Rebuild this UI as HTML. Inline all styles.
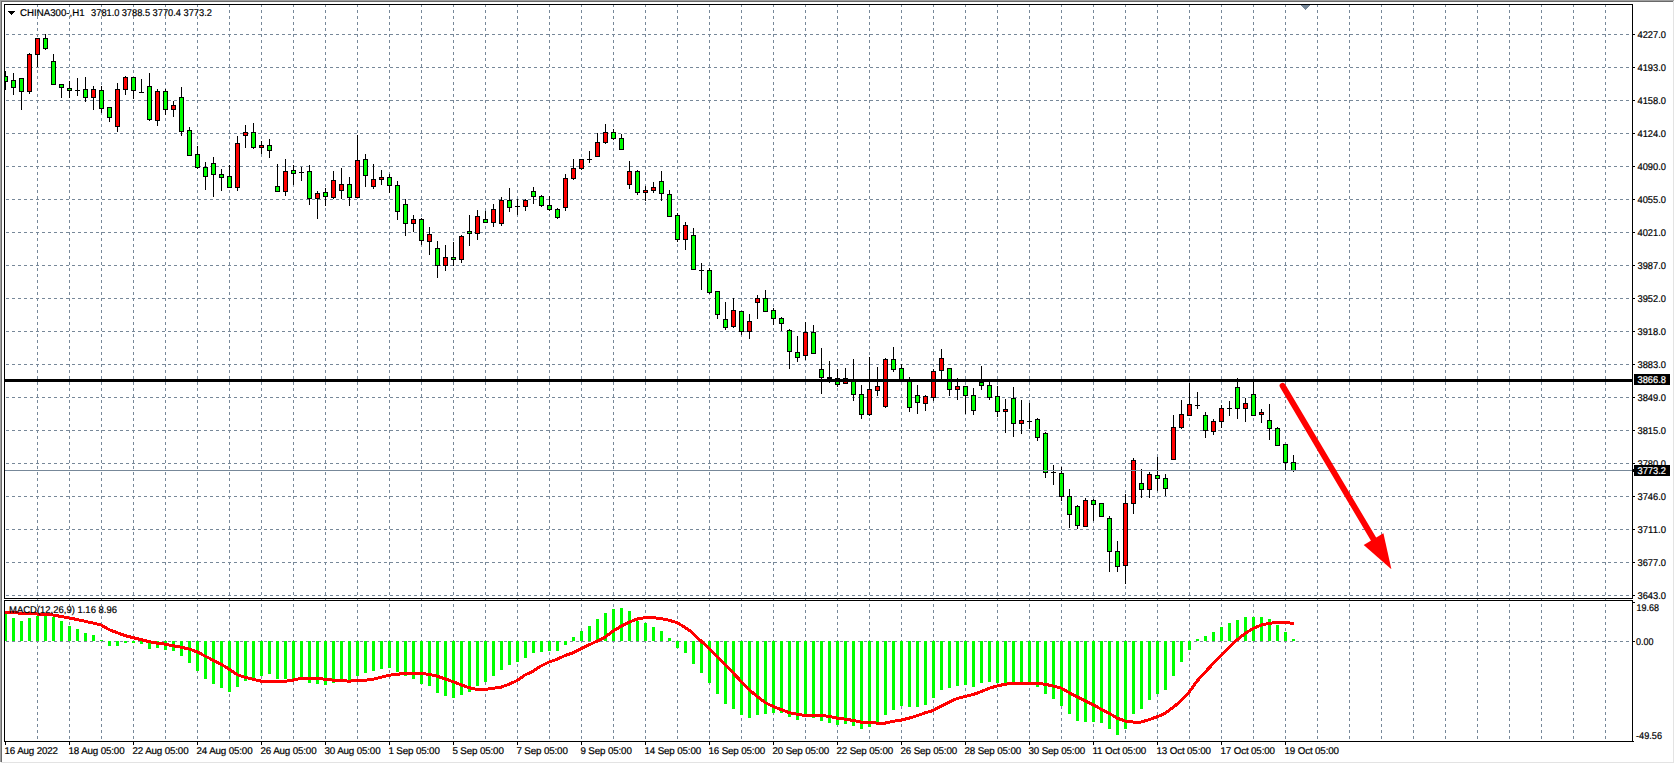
<!DOCTYPE html><html><head><meta charset="utf-8"><style>html,body{margin:0;padding:0;background:#fff;overflow:hidden}svg{display:block}text{font-family:"Liberation Sans",sans-serif;font-size:9.8px;text-rendering:geometricPrecision;stroke:#000;stroke-width:0.2px}.w{fill:#fff;stroke:#fff}</style></head><body>
<svg width="1675" height="764" viewBox="0 0 1675 764" shape-rendering="crispEdges">
<rect x="0" y="0" width="1675" height="764" fill="#fff"/>
<rect x="0" y="0" width="1674" height="1" fill="#a0a0a0"/>
<rect x="0" y="0" width="1" height="762" fill="#a0a0a0"/>
<rect x="1" y="1" width="1672" height="1" fill="#696969"/>
<rect x="1" y="1" width="1" height="761" fill="#696969"/>
<rect x="1673" y="1" width="1" height="762" fill="#e3e3e3"/>
<rect x="1" y="762" width="1673" height="1" fill="#e3e3e3"/>
<path d="M37.5 4V741 M69.5 4V741 M101.5 4V741 M133.5 4V741 M165.5 4V741 M197.5 4V741 M229.5 4V741 M261.5 4V741 M293.5 4V741 M325.5 4V741 M357.5 4V741 M389.5 4V741 M421.5 4V741 M453.5 4V741 M485.5 4V741 M517.5 4V741 M549.5 4V741 M581.5 4V741 M613.5 4V741 M645.5 4V741 M677.5 4V741 M709.5 4V741 M741.5 4V741 M773.5 4V741 M805.5 4V741 M837.5 4V741 M869.5 4V741 M901.5 4V741 M933.5 4V741 M965.5 4V741 M997.5 4V741 M1029.5 4V741 M1061.5 4V741 M1093.5 4V741 M1125.5 4V741 M1157.5 4V741 M1189.5 4V741 M1221.5 4V741 M1253.5 4V741 M1285.5 4V741 M1317.5 4V741 M1349.5 4V741 M1381.5 4V741 M1413.5 4V741 M1445.5 4V741 M1477.5 4V741 M1509.5 4V741 M1541.5 4V741 M1573.5 4V741 M1605.5 4V741 M6 34.5H1632 M6 67.5H1632 M6 100.5H1632 M6 133.5H1632 M6 166.5H1632 M6 199.5H1632 M6 232.5H1632 M6 265.5H1632 M6 298.5H1632 M6 331.5H1632 M6 364.5H1632 M6 397.5H1632 M6 430.5H1632 M6 463.5H1632 M6 496.5H1632 M6 529.5H1632 M6 562.5H1632 M6 595.5H1632 M6 641.5H1632" stroke="#778899" stroke-width="1" stroke-dasharray="3 3" fill="none"/>
<g><rect x="5" y="71" width="1" height="19" fill="#000"/><rect x="3" y="76" width="5" height="6" fill="#000"/><rect x="4" y="77" width="3" height="4" fill="#00ff00"/><rect x="13" y="73" width="1" height="22" fill="#000"/><rect x="11" y="80" width="5" height="8" fill="#000"/><rect x="12" y="81" width="3" height="6" fill="#00ff00"/><rect x="21" y="78" width="1" height="32" fill="#000"/><rect x="19" y="78" width="5" height="14" fill="#000"/><rect x="20" y="79" width="3" height="12" fill="#00ff00"/><rect x="29" y="53" width="1" height="41" fill="#000"/><rect x="27" y="54" width="5" height="38" fill="#000"/><rect x="28" y="55" width="3" height="36" fill="#ff0000"/><rect x="37" y="38" width="1" height="29" fill="#000"/><rect x="35" y="38" width="5" height="17" fill="#000"/><rect x="36" y="39" width="3" height="15" fill="#ff0000"/><rect x="45" y="34" width="1" height="16" fill="#000"/><rect x="43" y="38" width="5" height="11" fill="#000"/><rect x="44" y="39" width="3" height="9" fill="#00ff00"/><rect x="53" y="54" width="1" height="31" fill="#000"/><rect x="51" y="61" width="5" height="24" fill="#000"/><rect x="52" y="62" width="3" height="22" fill="#00ff00"/><rect x="61" y="84" width="1" height="14" fill="#000"/><rect x="59" y="84" width="5" height="4" fill="#000"/><rect x="60" y="85" width="3" height="2" fill="#00ff00"/><rect x="69" y="81" width="1" height="17" fill="#000"/><rect x="67" y="88" width="5" height="3" fill="#000"/><rect x="68" y="89" width="3" height="1" fill="#00ff00"/><rect x="77" y="78" width="1" height="18" fill="#000"/><rect x="75" y="90" width="5" height="1" fill="#000"/><rect x="85" y="77" width="1" height="25" fill="#000"/><rect x="83" y="89" width="5" height="9" fill="#000"/><rect x="84" y="90" width="3" height="7" fill="#00ff00"/><rect x="93" y="86" width="1" height="24" fill="#000"/><rect x="91" y="89" width="5" height="9" fill="#000"/><rect x="92" y="90" width="3" height="7" fill="#ff0000"/><rect x="101" y="86" width="1" height="27" fill="#000"/><rect x="99" y="90" width="5" height="19" fill="#000"/><rect x="100" y="91" width="3" height="17" fill="#00ff00"/><rect x="109" y="107" width="1" height="15" fill="#000"/><rect x="107" y="107" width="5" height="11" fill="#000"/><rect x="108" y="108" width="3" height="9" fill="#00ff00"/><rect x="117" y="83" width="1" height="49" fill="#000"/><rect x="115" y="89" width="5" height="38" fill="#000"/><rect x="116" y="90" width="3" height="36" fill="#ff0000"/><rect x="125" y="76" width="1" height="19" fill="#000"/><rect x="123" y="77" width="5" height="13" fill="#000"/><rect x="124" y="78" width="3" height="11" fill="#ff0000"/><rect x="133" y="77" width="1" height="22" fill="#000"/><rect x="131" y="77" width="5" height="14" fill="#000"/><rect x="132" y="78" width="3" height="12" fill="#00ff00"/><rect x="141" y="79" width="1" height="14" fill="#000"/><rect x="139" y="92" width="5" height="1" fill="#000"/><rect x="149" y="73" width="1" height="48" fill="#000"/><rect x="147" y="86" width="5" height="34" fill="#000"/><rect x="148" y="87" width="3" height="32" fill="#00ff00"/><rect x="157" y="89" width="1" height="37" fill="#000"/><rect x="155" y="91" width="5" height="30" fill="#000"/><rect x="156" y="92" width="3" height="28" fill="#ff0000"/><rect x="165" y="89" width="1" height="26" fill="#000"/><rect x="163" y="91" width="5" height="19" fill="#000"/><rect x="164" y="92" width="3" height="17" fill="#00ff00"/><rect x="173" y="101" width="1" height="16" fill="#000"/><rect x="171" y="105" width="5" height="5" fill="#000"/><rect x="172" y="106" width="3" height="3" fill="#ff0000"/><rect x="181" y="87" width="1" height="49" fill="#000"/><rect x="179" y="97" width="5" height="35" fill="#000"/><rect x="180" y="98" width="3" height="33" fill="#00ff00"/><rect x="189" y="127" width="1" height="29" fill="#000"/><rect x="187" y="130" width="5" height="26" fill="#000"/><rect x="188" y="131" width="3" height="24" fill="#00ff00"/><rect x="197" y="146" width="1" height="23" fill="#000"/><rect x="195" y="154" width="5" height="14" fill="#000"/><rect x="196" y="155" width="3" height="12" fill="#00ff00"/><rect x="205" y="162" width="1" height="28" fill="#000"/><rect x="203" y="167" width="5" height="10" fill="#000"/><rect x="204" y="168" width="3" height="8" fill="#00ff00"/><rect x="213" y="157" width="1" height="40" fill="#000"/><rect x="211" y="163" width="5" height="12" fill="#000"/><rect x="212" y="164" width="3" height="10" fill="#00ff00"/><rect x="221" y="169" width="1" height="22" fill="#000"/><rect x="219" y="174" width="5" height="4" fill="#000"/><rect x="220" y="175" width="3" height="2" fill="#00ff00"/><rect x="229" y="165" width="1" height="23" fill="#000"/><rect x="227" y="176" width="5" height="12" fill="#000"/><rect x="228" y="177" width="3" height="10" fill="#00ff00"/><rect x="237" y="136" width="1" height="55" fill="#000"/><rect x="235" y="143" width="5" height="45" fill="#000"/><rect x="236" y="144" width="3" height="43" fill="#ff0000"/><rect x="245" y="125" width="1" height="23" fill="#000"/><rect x="243" y="132" width="5" height="4" fill="#000"/><rect x="244" y="133" width="3" height="2" fill="#ff0000"/><rect x="253" y="123" width="1" height="26" fill="#000"/><rect x="251" y="132" width="5" height="16" fill="#000"/><rect x="252" y="133" width="3" height="14" fill="#00ff00"/><rect x="261" y="141" width="1" height="13" fill="#000"/><rect x="259" y="145" width="5" height="3" fill="#000"/><rect x="260" y="146" width="3" height="1" fill="#ff0000"/><rect x="269" y="139" width="1" height="19" fill="#000"/><rect x="267" y="145" width="5" height="6" fill="#000"/><rect x="268" y="146" width="3" height="4" fill="#00ff00"/><rect x="277" y="164" width="1" height="28" fill="#000"/><rect x="275" y="186" width="5" height="6" fill="#000"/><rect x="276" y="187" width="3" height="4" fill="#00ff00"/><rect x="285" y="159" width="1" height="37" fill="#000"/><rect x="283" y="171" width="5" height="21" fill="#000"/><rect x="284" y="172" width="3" height="19" fill="#ff0000"/><rect x="293" y="165" width="1" height="20" fill="#000"/><rect x="291" y="170" width="5" height="4" fill="#000"/><rect x="292" y="171" width="3" height="2" fill="#00ff00"/><rect x="301" y="167" width="1" height="14" fill="#000"/><rect x="299" y="172" width="5" height="1" fill="#000"/><rect x="309" y="165" width="1" height="40" fill="#000"/><rect x="307" y="171" width="5" height="28" fill="#000"/><rect x="308" y="172" width="3" height="26" fill="#00ff00"/><rect x="317" y="191" width="1" height="28" fill="#000"/><rect x="315" y="193" width="5" height="6" fill="#000"/><rect x="316" y="194" width="3" height="4" fill="#ff0000"/><rect x="325" y="188" width="1" height="18" fill="#000"/><rect x="323" y="192" width="5" height="5" fill="#000"/><rect x="324" y="193" width="3" height="3" fill="#00ff00"/><rect x="333" y="171" width="1" height="28" fill="#000"/><rect x="331" y="180" width="5" height="18" fill="#000"/><rect x="332" y="181" width="3" height="16" fill="#ff0000"/><rect x="341" y="168" width="1" height="31" fill="#000"/><rect x="339" y="184" width="5" height="7" fill="#000"/><rect x="340" y="185" width="3" height="5" fill="#ff0000"/><rect x="349" y="177" width="1" height="29" fill="#000"/><rect x="347" y="184" width="5" height="14" fill="#000"/><rect x="348" y="185" width="3" height="12" fill="#00ff00"/><rect x="357" y="135" width="1" height="63" fill="#000"/><rect x="355" y="160" width="5" height="38" fill="#000"/><rect x="356" y="161" width="3" height="36" fill="#ff0000"/><rect x="365" y="154" width="1" height="33" fill="#000"/><rect x="363" y="159" width="5" height="17" fill="#000"/><rect x="364" y="160" width="3" height="15" fill="#00ff00"/><rect x="373" y="164" width="1" height="25" fill="#000"/><rect x="371" y="179" width="5" height="8" fill="#000"/><rect x="372" y="180" width="3" height="6" fill="#ff0000"/><rect x="381" y="170" width="1" height="15" fill="#000"/><rect x="379" y="177" width="5" height="3" fill="#000"/><rect x="380" y="178" width="3" height="1" fill="#ff0000"/><rect x="389" y="174" width="1" height="19" fill="#000"/><rect x="387" y="177" width="5" height="9" fill="#000"/><rect x="388" y="178" width="3" height="7" fill="#00ff00"/><rect x="397" y="181" width="1" height="39" fill="#000"/><rect x="395" y="185" width="5" height="27" fill="#000"/><rect x="396" y="186" width="3" height="25" fill="#00ff00"/><rect x="405" y="199" width="1" height="37" fill="#000"/><rect x="403" y="204" width="5" height="20" fill="#000"/><rect x="404" y="205" width="3" height="18" fill="#00ff00"/><rect x="413" y="215" width="1" height="17" fill="#000"/><rect x="411" y="219" width="5" height="5" fill="#000"/><rect x="412" y="220" width="3" height="3" fill="#ff0000"/><rect x="421" y="218" width="1" height="27" fill="#000"/><rect x="419" y="219" width="5" height="22" fill="#000"/><rect x="420" y="220" width="3" height="20" fill="#00ff00"/><rect x="429" y="227" width="1" height="28" fill="#000"/><rect x="427" y="234" width="5" height="8" fill="#000"/><rect x="428" y="235" width="3" height="6" fill="#ff0000"/><rect x="437" y="241" width="1" height="37" fill="#000"/><rect x="435" y="248" width="5" height="18" fill="#000"/><rect x="436" y="249" width="3" height="16" fill="#00ff00"/><rect x="445" y="245" width="1" height="26" fill="#000"/><rect x="443" y="257" width="5" height="9" fill="#000"/><rect x="444" y="258" width="3" height="7" fill="#ff0000"/><rect x="453" y="242" width="1" height="24" fill="#000"/><rect x="451" y="257" width="5" height="3" fill="#000"/><rect x="452" y="258" width="3" height="1" fill="#00ff00"/><rect x="461" y="235" width="1" height="28" fill="#000"/><rect x="459" y="236" width="5" height="24" fill="#000"/><rect x="460" y="237" width="3" height="22" fill="#ff0000"/><rect x="469" y="215" width="1" height="31" fill="#000"/><rect x="467" y="231" width="5" height="3" fill="#000"/><rect x="468" y="232" width="3" height="1" fill="#00ff00"/><rect x="477" y="210" width="1" height="30" fill="#000"/><rect x="475" y="216" width="5" height="18" fill="#000"/><rect x="476" y="217" width="3" height="16" fill="#ff0000"/><rect x="485" y="211" width="1" height="12" fill="#000"/><rect x="483" y="219" width="5" height="4" fill="#000"/><rect x="484" y="220" width="3" height="2" fill="#00ff00"/><rect x="493" y="204" width="1" height="23" fill="#000"/><rect x="491" y="209" width="5" height="14" fill="#000"/><rect x="492" y="210" width="3" height="12" fill="#ff0000"/><rect x="501" y="197" width="1" height="29" fill="#000"/><rect x="499" y="200" width="5" height="24" fill="#000"/><rect x="500" y="201" width="3" height="22" fill="#ff0000"/><rect x="509" y="188" width="1" height="24" fill="#000"/><rect x="507" y="200" width="5" height="8" fill="#000"/><rect x="508" y="201" width="3" height="6" fill="#00ff00"/><rect x="517" y="199" width="1" height="16" fill="#000"/><rect x="515" y="206" width="5" height="1" fill="#000"/><rect x="525" y="199" width="1" height="12" fill="#000"/><rect x="523" y="200" width="5" height="7" fill="#000"/><rect x="524" y="201" width="3" height="5" fill="#ff0000"/><rect x="533" y="187" width="1" height="17" fill="#000"/><rect x="531" y="191" width="5" height="6" fill="#000"/><rect x="532" y="192" width="3" height="4" fill="#00ff00"/><rect x="541" y="195" width="1" height="12" fill="#000"/><rect x="539" y="196" width="5" height="10" fill="#000"/><rect x="540" y="197" width="3" height="8" fill="#00ff00"/><rect x="549" y="196" width="1" height="15" fill="#000"/><rect x="547" y="205" width="5" height="5" fill="#000"/><rect x="548" y="206" width="3" height="3" fill="#00ff00"/><rect x="557" y="208" width="1" height="11" fill="#000"/><rect x="555" y="209" width="5" height="9" fill="#000"/><rect x="556" y="210" width="3" height="7" fill="#00ff00"/><rect x="565" y="174" width="1" height="37" fill="#000"/><rect x="563" y="178" width="5" height="30" fill="#000"/><rect x="564" y="179" width="3" height="28" fill="#ff0000"/><rect x="573" y="159" width="1" height="21" fill="#000"/><rect x="571" y="168" width="5" height="11" fill="#000"/><rect x="572" y="169" width="3" height="9" fill="#ff0000"/><rect x="581" y="159" width="1" height="11" fill="#000"/><rect x="579" y="159" width="5" height="10" fill="#000"/><rect x="580" y="160" width="3" height="8" fill="#ff0000"/><rect x="589" y="151" width="1" height="12" fill="#000"/><rect x="587" y="159" width="5" height="1" fill="#000"/><rect x="597" y="133" width="1" height="24" fill="#000"/><rect x="595" y="142" width="5" height="15" fill="#000"/><rect x="596" y="143" width="3" height="13" fill="#ff0000"/><rect x="605" y="124" width="1" height="20" fill="#000"/><rect x="603" y="132" width="5" height="11" fill="#000"/><rect x="604" y="133" width="3" height="9" fill="#ff0000"/><rect x="613" y="129" width="1" height="11" fill="#000"/><rect x="611" y="132" width="5" height="7" fill="#000"/><rect x="612" y="133" width="3" height="5" fill="#00ff00"/><rect x="621" y="134" width="1" height="16" fill="#000"/><rect x="619" y="138" width="5" height="12" fill="#000"/><rect x="620" y="139" width="3" height="10" fill="#00ff00"/><rect x="629" y="161" width="1" height="28" fill="#000"/><rect x="627" y="171" width="5" height="14" fill="#000"/><rect x="628" y="172" width="3" height="12" fill="#ff0000"/><rect x="637" y="170" width="1" height="25" fill="#000"/><rect x="635" y="171" width="5" height="22" fill="#000"/><rect x="636" y="172" width="3" height="20" fill="#00ff00"/><rect x="645" y="186" width="1" height="15" fill="#000"/><rect x="643" y="190" width="5" height="3" fill="#000"/><rect x="644" y="191" width="3" height="1" fill="#ff0000"/><rect x="653" y="182" width="1" height="11" fill="#000"/><rect x="651" y="187" width="5" height="4" fill="#000"/><rect x="652" y="188" width="3" height="2" fill="#ff0000"/><rect x="661" y="171" width="1" height="30" fill="#000"/><rect x="659" y="181" width="5" height="13" fill="#000"/><rect x="660" y="182" width="3" height="11" fill="#00ff00"/><rect x="669" y="190" width="1" height="27" fill="#000"/><rect x="667" y="194" width="5" height="23" fill="#000"/><rect x="668" y="195" width="3" height="21" fill="#00ff00"/><rect x="677" y="213" width="1" height="29" fill="#000"/><rect x="675" y="215" width="5" height="25" fill="#000"/><rect x="676" y="216" width="3" height="23" fill="#00ff00"/><rect x="685" y="222" width="1" height="28" fill="#000"/><rect x="683" y="225" width="5" height="15" fill="#000"/><rect x="684" y="226" width="3" height="13" fill="#ff0000"/><rect x="693" y="228" width="1" height="42" fill="#000"/><rect x="691" y="235" width="5" height="35" fill="#000"/><rect x="692" y="236" width="3" height="33" fill="#00ff00"/><rect x="701" y="263" width="1" height="27" fill="#000"/><rect x="699" y="270" width="5" height="1" fill="#000"/><rect x="709" y="268" width="1" height="26" fill="#000"/><rect x="707" y="270" width="5" height="23" fill="#000"/><rect x="708" y="271" width="3" height="21" fill="#00ff00"/><rect x="717" y="291" width="1" height="28" fill="#000"/><rect x="715" y="291" width="5" height="24" fill="#000"/><rect x="716" y="292" width="3" height="22" fill="#00ff00"/><rect x="725" y="302" width="1" height="28" fill="#000"/><rect x="723" y="319" width="5" height="9" fill="#000"/><rect x="724" y="320" width="3" height="7" fill="#00ff00"/><rect x="733" y="298" width="1" height="30" fill="#000"/><rect x="731" y="310" width="5" height="17" fill="#000"/><rect x="732" y="311" width="3" height="15" fill="#ff0000"/><rect x="741" y="311" width="1" height="24" fill="#000"/><rect x="739" y="311" width="5" height="21" fill="#000"/><rect x="740" y="312" width="3" height="19" fill="#00ff00"/><rect x="749" y="314" width="1" height="25" fill="#000"/><rect x="747" y="321" width="5" height="11" fill="#000"/><rect x="748" y="322" width="3" height="9" fill="#ff0000"/><rect x="757" y="295" width="1" height="24" fill="#000"/><rect x="755" y="298" width="5" height="5" fill="#000"/><rect x="756" y="299" width="3" height="3" fill="#ff0000"/><rect x="765" y="290" width="1" height="22" fill="#000"/><rect x="763" y="298" width="5" height="14" fill="#000"/><rect x="764" y="299" width="3" height="12" fill="#00ff00"/><rect x="773" y="308" width="1" height="17" fill="#000"/><rect x="771" y="310" width="5" height="9" fill="#000"/><rect x="772" y="311" width="3" height="7" fill="#00ff00"/><rect x="781" y="317" width="1" height="14" fill="#000"/><rect x="779" y="318" width="5" height="6" fill="#000"/><rect x="780" y="319" width="3" height="4" fill="#00ff00"/><rect x="789" y="329" width="1" height="40" fill="#000"/><rect x="787" y="330" width="5" height="22" fill="#000"/><rect x="788" y="331" width="3" height="20" fill="#00ff00"/><rect x="797" y="336" width="1" height="26" fill="#000"/><rect x="795" y="352" width="5" height="6" fill="#000"/><rect x="796" y="353" width="3" height="4" fill="#00ff00"/><rect x="805" y="322" width="1" height="38" fill="#000"/><rect x="803" y="332" width="5" height="24" fill="#000"/><rect x="804" y="333" width="3" height="22" fill="#ff0000"/><rect x="813" y="325" width="1" height="29" fill="#000"/><rect x="811" y="332" width="5" height="22" fill="#000"/><rect x="812" y="333" width="3" height="20" fill="#00ff00"/><rect x="821" y="348" width="1" height="46" fill="#000"/><rect x="819" y="369" width="5" height="9" fill="#000"/><rect x="820" y="370" width="3" height="7" fill="#00ff00"/><rect x="829" y="361" width="1" height="22" fill="#000"/><rect x="827" y="377" width="5" height="2" fill="#000"/><rect x="837" y="369" width="1" height="18" fill="#000"/><rect x="835" y="378" width="5" height="7" fill="#000"/><rect x="836" y="379" width="3" height="5" fill="#00ff00"/><rect x="845" y="368" width="1" height="16" fill="#000"/><rect x="843" y="378" width="5" height="6" fill="#000"/><rect x="844" y="379" width="3" height="4" fill="#ff0000"/><rect x="853" y="359" width="1" height="42" fill="#000"/><rect x="851" y="381" width="5" height="14" fill="#000"/><rect x="852" y="382" width="3" height="12" fill="#00ff00"/><rect x="861" y="385" width="1" height="34" fill="#000"/><rect x="859" y="394" width="5" height="21" fill="#000"/><rect x="860" y="395" width="3" height="19" fill="#00ff00"/><rect x="869" y="357" width="1" height="59" fill="#000"/><rect x="867" y="389" width="5" height="26" fill="#000"/><rect x="868" y="390" width="3" height="24" fill="#ff0000"/><rect x="877" y="367" width="1" height="29" fill="#000"/><rect x="875" y="386" width="5" height="5" fill="#000"/><rect x="876" y="387" width="3" height="3" fill="#ff0000"/><rect x="885" y="358" width="1" height="50" fill="#000"/><rect x="883" y="359" width="5" height="48" fill="#000"/><rect x="884" y="360" width="3" height="46" fill="#ff0000"/><rect x="893" y="347" width="1" height="25" fill="#000"/><rect x="891" y="359" width="5" height="11" fill="#000"/><rect x="892" y="360" width="3" height="9" fill="#00ff00"/><rect x="901" y="364" width="1" height="17" fill="#000"/><rect x="899" y="368" width="5" height="13" fill="#000"/><rect x="900" y="369" width="3" height="11" fill="#00ff00"/><rect x="909" y="377" width="1" height="35" fill="#000"/><rect x="907" y="380" width="5" height="28" fill="#000"/><rect x="908" y="381" width="3" height="26" fill="#00ff00"/><rect x="917" y="385" width="1" height="29" fill="#000"/><rect x="915" y="395" width="5" height="8" fill="#000"/><rect x="916" y="396" width="3" height="6" fill="#00ff00"/><rect x="925" y="395" width="1" height="16" fill="#000"/><rect x="923" y="396" width="5" height="8" fill="#000"/><rect x="924" y="397" width="3" height="6" fill="#ff0000"/><rect x="933" y="369" width="1" height="32" fill="#000"/><rect x="931" y="371" width="5" height="27" fill="#000"/><rect x="932" y="372" width="3" height="25" fill="#ff0000"/><rect x="941" y="349" width="1" height="31" fill="#000"/><rect x="939" y="358" width="5" height="13" fill="#000"/><rect x="940" y="359" width="3" height="11" fill="#ff0000"/><rect x="949" y="368" width="1" height="28" fill="#000"/><rect x="947" y="368" width="5" height="22" fill="#000"/><rect x="948" y="369" width="3" height="20" fill="#00ff00"/><rect x="957" y="378" width="1" height="22" fill="#000"/><rect x="955" y="386" width="5" height="4" fill="#000"/><rect x="956" y="387" width="3" height="2" fill="#ff0000"/><rect x="965" y="386" width="1" height="28" fill="#000"/><rect x="963" y="386" width="5" height="10" fill="#000"/><rect x="964" y="387" width="3" height="8" fill="#00ff00"/><rect x="973" y="388" width="1" height="27" fill="#000"/><rect x="971" y="395" width="5" height="16" fill="#000"/><rect x="972" y="396" width="3" height="14" fill="#00ff00"/><rect x="981" y="366" width="1" height="24" fill="#000"/><rect x="979" y="382" width="5" height="4" fill="#000"/><rect x="980" y="383" width="3" height="2" fill="#00ff00"/><rect x="989" y="382" width="1" height="18" fill="#000"/><rect x="987" y="385" width="5" height="13" fill="#000"/><rect x="988" y="386" width="3" height="11" fill="#00ff00"/><rect x="997" y="386" width="1" height="31" fill="#000"/><rect x="995" y="396" width="5" height="16" fill="#000"/><rect x="996" y="397" width="3" height="14" fill="#00ff00"/><rect x="1005" y="399" width="1" height="34" fill="#000"/><rect x="1003" y="409" width="5" height="3" fill="#000"/><rect x="1004" y="410" width="3" height="1" fill="#ff0000"/><rect x="1013" y="387" width="1" height="50" fill="#000"/><rect x="1011" y="398" width="5" height="26" fill="#000"/><rect x="1012" y="399" width="3" height="24" fill="#00ff00"/><rect x="1021" y="400" width="1" height="34" fill="#000"/><rect x="1019" y="420" width="5" height="4" fill="#000"/><rect x="1020" y="421" width="3" height="2" fill="#ff0000"/><rect x="1029" y="403" width="1" height="26" fill="#000"/><rect x="1027" y="421" width="5" height="1" fill="#000"/><rect x="1037" y="418" width="1" height="23" fill="#000"/><rect x="1035" y="419" width="5" height="19" fill="#000"/><rect x="1036" y="420" width="3" height="17" fill="#00ff00"/><rect x="1045" y="432" width="1" height="46" fill="#000"/><rect x="1043" y="433" width="5" height="40" fill="#000"/><rect x="1044" y="434" width="3" height="38" fill="#00ff00"/><rect x="1053" y="465" width="1" height="20" fill="#000"/><rect x="1051" y="472" width="5" height="1" fill="#000"/><rect x="1061" y="467" width="1" height="34" fill="#000"/><rect x="1059" y="473" width="5" height="24" fill="#000"/><rect x="1060" y="474" width="3" height="22" fill="#00ff00"/><rect x="1069" y="489" width="1" height="39" fill="#000"/><rect x="1067" y="496" width="5" height="19" fill="#000"/><rect x="1068" y="497" width="3" height="17" fill="#00ff00"/><rect x="1077" y="505" width="1" height="24" fill="#000"/><rect x="1075" y="506" width="5" height="20" fill="#000"/><rect x="1076" y="507" width="3" height="18" fill="#00ff00"/><rect x="1085" y="498" width="1" height="29" fill="#000"/><rect x="1083" y="500" width="5" height="27" fill="#000"/><rect x="1084" y="501" width="3" height="25" fill="#ff0000"/><rect x="1093" y="499" width="1" height="22" fill="#000"/><rect x="1091" y="500" width="5" height="5" fill="#000"/><rect x="1092" y="501" width="3" height="3" fill="#00ff00"/><rect x="1101" y="503" width="1" height="14" fill="#000"/><rect x="1099" y="503" width="5" height="14" fill="#000"/><rect x="1100" y="504" width="3" height="12" fill="#00ff00"/><rect x="1109" y="516" width="1" height="56" fill="#000"/><rect x="1107" y="518" width="5" height="34" fill="#000"/><rect x="1108" y="519" width="3" height="32" fill="#00ff00"/><rect x="1117" y="541" width="1" height="31" fill="#000"/><rect x="1115" y="551" width="5" height="16" fill="#000"/><rect x="1116" y="552" width="3" height="14" fill="#00ff00"/><rect x="1125" y="494" width="1" height="90" fill="#000"/><rect x="1123" y="503" width="5" height="63" fill="#000"/><rect x="1124" y="504" width="3" height="61" fill="#ff0000"/><rect x="1133" y="458" width="1" height="56" fill="#000"/><rect x="1131" y="460" width="5" height="44" fill="#000"/><rect x="1132" y="461" width="3" height="42" fill="#ff0000"/><rect x="1141" y="469" width="1" height="29" fill="#000"/><rect x="1139" y="483" width="5" height="7" fill="#000"/><rect x="1140" y="484" width="3" height="5" fill="#00ff00"/><rect x="1149" y="472" width="1" height="26" fill="#000"/><rect x="1147" y="474" width="5" height="16" fill="#000"/><rect x="1148" y="475" width="3" height="14" fill="#ff0000"/><rect x="1157" y="457" width="1" height="34" fill="#000"/><rect x="1155" y="475" width="5" height="4" fill="#000"/><rect x="1156" y="476" width="3" height="2" fill="#00ff00"/><rect x="1165" y="474" width="1" height="22" fill="#000"/><rect x="1163" y="478" width="5" height="11" fill="#000"/><rect x="1164" y="479" width="3" height="9" fill="#00ff00"/><rect x="1173" y="415" width="1" height="45" fill="#000"/><rect x="1171" y="427" width="5" height="33" fill="#000"/><rect x="1172" y="428" width="3" height="31" fill="#ff0000"/><rect x="1181" y="400" width="1" height="29" fill="#000"/><rect x="1179" y="414" width="5" height="14" fill="#000"/><rect x="1180" y="415" width="3" height="12" fill="#ff0000"/><rect x="1189" y="383" width="1" height="33" fill="#000"/><rect x="1187" y="404" width="5" height="12" fill="#000"/><rect x="1188" y="405" width="3" height="10" fill="#ff0000"/><rect x="1197" y="392" width="1" height="17" fill="#000"/><rect x="1195" y="405" width="5" height="1" fill="#000"/><rect x="1205" y="412" width="1" height="26" fill="#000"/><rect x="1203" y="415" width="5" height="16" fill="#000"/><rect x="1204" y="416" width="3" height="14" fill="#00ff00"/><rect x="1213" y="419" width="1" height="16" fill="#000"/><rect x="1211" y="421" width="5" height="11" fill="#000"/><rect x="1212" y="422" width="3" height="9" fill="#ff0000"/><rect x="1221" y="405" width="1" height="23" fill="#000"/><rect x="1219" y="408" width="5" height="14" fill="#000"/><rect x="1220" y="409" width="3" height="12" fill="#ff0000"/><rect x="1229" y="401" width="1" height="15" fill="#000"/><rect x="1227" y="408" width="5" height="1" fill="#000"/><rect x="1237" y="378" width="1" height="41" fill="#000"/><rect x="1235" y="387" width="5" height="22" fill="#000"/><rect x="1236" y="388" width="3" height="20" fill="#00ff00"/><rect x="1245" y="398" width="1" height="24" fill="#000"/><rect x="1243" y="403" width="5" height="6" fill="#000"/><rect x="1244" y="404" width="3" height="4" fill="#ff0000"/><rect x="1253" y="382" width="1" height="34" fill="#000"/><rect x="1251" y="394" width="5" height="22" fill="#000"/><rect x="1252" y="395" width="3" height="20" fill="#00ff00"/><rect x="1261" y="409" width="1" height="14" fill="#000"/><rect x="1259" y="412" width="5" height="3" fill="#000"/><rect x="1260" y="413" width="3" height="1" fill="#ff0000"/><rect x="1269" y="404" width="1" height="36" fill="#000"/><rect x="1267" y="420" width="5" height="9" fill="#000"/><rect x="1268" y="421" width="3" height="7" fill="#00ff00"/><rect x="1277" y="427" width="1" height="19" fill="#000"/><rect x="1275" y="428" width="5" height="18" fill="#000"/><rect x="1276" y="429" width="3" height="16" fill="#00ff00"/><rect x="1285" y="444" width="1" height="26" fill="#000"/><rect x="1283" y="444" width="5" height="19" fill="#000"/><rect x="1284" y="445" width="3" height="17" fill="#00ff00"/><rect x="1293" y="455" width="1" height="17" fill="#000"/><rect x="1291" y="462" width="5" height="9" fill="#000"/><rect x="1292" y="463" width="3" height="7" fill="#00ff00"/></g>
<rect x="5" y="379" width="1627" height="3" fill="#000"/>
<rect x="5" y="470" width="1627" height="1" fill="#778899"/>
<g shape-rendering="geometricPrecision"><line x1="1282.6" y1="385.8" x2="1374.6" y2="540.9" stroke="#ff0000" stroke-width="6" stroke-linecap="round"/><polygon points="1391.4,569.3 1363.7,545.1 1383.4,533.3" fill="#ff0000"/></g>
<g><rect x="5" y="614" width="2" height="27" fill="#00ff00"/><rect x="12" y="618" width="3" height="23" fill="#00ff00"/><rect x="20" y="621" width="3" height="20" fill="#00ff00"/><rect x="28" y="618" width="3" height="23" fill="#00ff00"/><rect x="36" y="616" width="3" height="25" fill="#00ff00"/><rect x="44" y="616" width="3" height="25" fill="#00ff00"/><rect x="52" y="617" width="3" height="24" fill="#00ff00"/><rect x="60" y="621" width="3" height="20" fill="#00ff00"/><rect x="68" y="626" width="3" height="15" fill="#00ff00"/><rect x="76" y="629" width="3" height="12" fill="#00ff00"/><rect x="84" y="633" width="3" height="8" fill="#00ff00"/><rect x="92" y="635" width="3" height="6" fill="#00ff00"/><rect x="100" y="640" width="3" height="1" fill="#00ff00"/><rect x="108" y="641" width="3" height="5" fill="#00ff00"/><rect x="116" y="641" width="3" height="5" fill="#00ff00"/><rect x="124" y="641" width="3" height="2" fill="#00ff00"/><rect x="132" y="641" width="3" height="2" fill="#00ff00"/><rect x="140" y="641" width="3" height="3" fill="#00ff00"/><rect x="148" y="641" width="3" height="8" fill="#00ff00"/><rect x="156" y="641" width="3" height="7" fill="#00ff00"/><rect x="164" y="641" width="3" height="9" fill="#00ff00"/><rect x="172" y="641" width="3" height="10" fill="#00ff00"/><rect x="180" y="641" width="3" height="15" fill="#00ff00"/><rect x="188" y="641" width="3" height="22" fill="#00ff00"/><rect x="196" y="641" width="3" height="30" fill="#00ff00"/><rect x="204" y="641" width="3" height="38" fill="#00ff00"/><rect x="212" y="641" width="3" height="43" fill="#00ff00"/><rect x="220" y="641" width="3" height="47" fill="#00ff00"/><rect x="228" y="641" width="3" height="51" fill="#00ff00"/><rect x="236" y="641" width="3" height="46" fill="#00ff00"/><rect x="244" y="641" width="3" height="40" fill="#00ff00"/><rect x="252" y="641" width="3" height="37" fill="#00ff00"/><rect x="260" y="641" width="3" height="35" fill="#00ff00"/><rect x="268" y="641" width="3" height="33" fill="#00ff00"/><rect x="276" y="641" width="3" height="38" fill="#00ff00"/><rect x="284" y="641" width="3" height="38" fill="#00ff00"/><rect x="292" y="641" width="3" height="39" fill="#00ff00"/><rect x="300" y="641" width="3" height="38" fill="#00ff00"/><rect x="308" y="641" width="3" height="42" fill="#00ff00"/><rect x="316" y="641" width="3" height="43" fill="#00ff00"/><rect x="324" y="641" width="3" height="44" fill="#00ff00"/><rect x="332" y="641" width="3" height="42" fill="#00ff00"/><rect x="340" y="641" width="3" height="39" fill="#00ff00"/><rect x="348" y="641" width="3" height="40" fill="#00ff00"/><rect x="356" y="641" width="3" height="35" fill="#00ff00"/><rect x="364" y="641" width="3" height="32" fill="#00ff00"/><rect x="372" y="641" width="3" height="30" fill="#00ff00"/><rect x="380" y="641" width="3" height="28" fill="#00ff00"/><rect x="388" y="641" width="3" height="27" fill="#00ff00"/><rect x="396" y="641" width="3" height="31" fill="#00ff00"/><rect x="404" y="641" width="3" height="35" fill="#00ff00"/><rect x="412" y="641" width="3" height="38" fill="#00ff00"/><rect x="420" y="641" width="3" height="43" fill="#00ff00"/><rect x="428" y="641" width="3" height="45" fill="#00ff00"/><rect x="436" y="641" width="3" height="52" fill="#00ff00"/><rect x="444" y="641" width="3" height="55" fill="#00ff00"/><rect x="452" y="641" width="3" height="57" fill="#00ff00"/><rect x="460" y="641" width="3" height="54" fill="#00ff00"/><rect x="468" y="641" width="3" height="51" fill="#00ff00"/><rect x="476" y="641" width="3" height="45" fill="#00ff00"/><rect x="484" y="641" width="3" height="41" fill="#00ff00"/><rect x="492" y="641" width="3" height="35" fill="#00ff00"/><rect x="500" y="641" width="3" height="29" fill="#00ff00"/><rect x="508" y="641" width="3" height="24" fill="#00ff00"/><rect x="516" y="641" width="3" height="21" fill="#00ff00"/><rect x="524" y="641" width="3" height="17" fill="#00ff00"/><rect x="532" y="641" width="3" height="12" fill="#00ff00"/><rect x="540" y="641" width="3" height="11" fill="#00ff00"/><rect x="548" y="641" width="3" height="10" fill="#00ff00"/><rect x="556" y="641" width="3" height="10" fill="#00ff00"/><rect x="564" y="641" width="3" height="4" fill="#00ff00"/><rect x="572" y="637" width="3" height="4" fill="#00ff00"/><rect x="580" y="631" width="3" height="10" fill="#00ff00"/><rect x="588" y="626" width="3" height="15" fill="#00ff00"/><rect x="596" y="619" width="3" height="22" fill="#00ff00"/><rect x="604" y="613" width="3" height="28" fill="#00ff00"/><rect x="612" y="609" width="3" height="32" fill="#00ff00"/><rect x="620" y="608" width="3" height="33" fill="#00ff00"/><rect x="628" y="611" width="3" height="30" fill="#00ff00"/><rect x="636" y="621" width="3" height="20" fill="#00ff00"/><rect x="644" y="623" width="3" height="18" fill="#00ff00"/><rect x="652" y="627" width="3" height="14" fill="#00ff00"/><rect x="660" y="631" width="3" height="10" fill="#00ff00"/><rect x="668" y="638" width="3" height="3" fill="#00ff00"/><rect x="676" y="641" width="3" height="7" fill="#00ff00"/><rect x="684" y="641" width="3" height="12" fill="#00ff00"/><rect x="692" y="641" width="3" height="23" fill="#00ff00"/><rect x="700" y="641" width="3" height="32" fill="#00ff00"/><rect x="708" y="641" width="3" height="42" fill="#00ff00"/><rect x="716" y="641" width="3" height="53" fill="#00ff00"/><rect x="724" y="641" width="3" height="63" fill="#00ff00"/><rect x="732" y="641" width="3" height="68" fill="#00ff00"/><rect x="740" y="641" width="3" height="74" fill="#00ff00"/><rect x="748" y="641" width="3" height="77" fill="#00ff00"/><rect x="756" y="641" width="3" height="74" fill="#00ff00"/><rect x="764" y="641" width="3" height="73" fill="#00ff00"/><rect x="772" y="641" width="3" height="72" fill="#00ff00"/><rect x="780" y="641" width="3" height="72" fill="#00ff00"/><rect x="788" y="641" width="3" height="76" fill="#00ff00"/><rect x="796" y="641" width="3" height="79" fill="#00ff00"/><rect x="804" y="641" width="3" height="76" fill="#00ff00"/><rect x="812" y="641" width="3" height="77" fill="#00ff00"/><rect x="820" y="641" width="3" height="80" fill="#00ff00"/><rect x="828" y="641" width="3" height="82" fill="#00ff00"/><rect x="836" y="641" width="3" height="84" fill="#00ff00"/><rect x="844" y="641" width="3" height="83" fill="#00ff00"/><rect x="852" y="641" width="3" height="85" fill="#00ff00"/><rect x="860" y="641" width="3" height="88" fill="#00ff00"/><rect x="868" y="641" width="3" height="86" fill="#00ff00"/><rect x="876" y="641" width="3" height="81" fill="#00ff00"/><rect x="884" y="641" width="3" height="74" fill="#00ff00"/><rect x="892" y="641" width="3" height="69" fill="#00ff00"/><rect x="900" y="641" width="3" height="65" fill="#00ff00"/><rect x="908" y="641" width="3" height="66" fill="#00ff00"/><rect x="916" y="641" width="3" height="66" fill="#00ff00"/><rect x="924" y="641" width="3" height="64" fill="#00ff00"/><rect x="932" y="641" width="3" height="57" fill="#00ff00"/><rect x="940" y="641" width="3" height="49" fill="#00ff00"/><rect x="948" y="641" width="3" height="47" fill="#00ff00"/><rect x="956" y="641" width="3" height="45" fill="#00ff00"/><rect x="964" y="641" width="3" height="44" fill="#00ff00"/><rect x="972" y="641" width="3" height="46" fill="#00ff00"/><rect x="980" y="641" width="3" height="42" fill="#00ff00"/><rect x="988" y="641" width="3" height="41" fill="#00ff00"/><rect x="996" y="641" width="3" height="42" fill="#00ff00"/><rect x="1004" y="641" width="3" height="42" fill="#00ff00"/><rect x="1012" y="641" width="3" height="42" fill="#00ff00"/><rect x="1020" y="641" width="3" height="42" fill="#00ff00"/><rect x="1028" y="641" width="3" height="42" fill="#00ff00"/><rect x="1036" y="641" width="3" height="46" fill="#00ff00"/><rect x="1044" y="641" width="3" height="53" fill="#00ff00"/><rect x="1052" y="641" width="3" height="58" fill="#00ff00"/><rect x="1060" y="641" width="3" height="65" fill="#00ff00"/><rect x="1068" y="641" width="3" height="73" fill="#00ff00"/><rect x="1076" y="641" width="3" height="80" fill="#00ff00"/><rect x="1084" y="641" width="3" height="81" fill="#00ff00"/><rect x="1092" y="641" width="3" height="81" fill="#00ff00"/><rect x="1100" y="641" width="3" height="82" fill="#00ff00"/><rect x="1108" y="641" width="3" height="88" fill="#00ff00"/><rect x="1116" y="641" width="3" height="94" fill="#00ff00"/><rect x="1124" y="641" width="3" height="88" fill="#00ff00"/><rect x="1132" y="641" width="3" height="73" fill="#00ff00"/><rect x="1140" y="641" width="3" height="68" fill="#00ff00"/><rect x="1148" y="641" width="3" height="59" fill="#00ff00"/><rect x="1156" y="641" width="3" height="53" fill="#00ff00"/><rect x="1164" y="641" width="3" height="49" fill="#00ff00"/><rect x="1172" y="641" width="3" height="35" fill="#00ff00"/><rect x="1180" y="641" width="3" height="21" fill="#00ff00"/><rect x="1188" y="641" width="3" height="9" fill="#00ff00"/><rect x="1196" y="639" width="3" height="2" fill="#00ff00"/><rect x="1204" y="636" width="3" height="5" fill="#00ff00"/><rect x="1212" y="632" width="3" height="9" fill="#00ff00"/><rect x="1220" y="627" width="3" height="14" fill="#00ff00"/><rect x="1228" y="623" width="3" height="18" fill="#00ff00"/><rect x="1236" y="620" width="3" height="21" fill="#00ff00"/><rect x="1244" y="617" width="3" height="24" fill="#00ff00"/><rect x="1252" y="617" width="3" height="24" fill="#00ff00"/><rect x="1260" y="617" width="3" height="24" fill="#00ff00"/><rect x="1268" y="619" width="3" height="22" fill="#00ff00"/><rect x="1276" y="625" width="3" height="16" fill="#00ff00"/><rect x="1284" y="632" width="3" height="9" fill="#00ff00"/><rect x="1292" y="639" width="3" height="2" fill="#00ff00"/></g>
<polyline points="5,612.6 13,612.5 21,613.3 29,613.7 37,614.0 45,614.3 53,615.0 61,616.5 69,618.0 77,619.5 85,621.3 93,623.0 101,625.0 109,629.6 117,632.6 125,635.6 133,637.6 141,639.6 149,641.6 157,643.1 165,644.2 173,645.7 181,647.2 189,649.0 197,651.8 205,656.0 213,660.1 221,664.1 229,669.1 237,674.6 245,677.3 253,679.3 261,681.1 269,681.3 277,681.3 285,681.3 293,680.1 301,678.3 309,678.3 317,678.3 325,679.2 333,680.1 341,680.1 349,681.3 357,680.3 365,680.3 373,679.3 381,677.3 389,675.3 397,674.3 405,673.4 413,673.4 421,673.4 429,674.3 437,676.1 445,678.9 453,681.6 461,684.8 469,687.7 477,689.4 485,689.4 493,688.3 501,687.1 509,684.4 517,680.5 525,675.0 533,671.2 541,666.0 549,662.0 557,659.4 565,655.5 573,652.8 581,648.8 589,644.9 597,641.1 605,637.1 613,631.1 621,626.3 629,622.1 637,619.1 645,617.6 653,617.7 661,618.6 669,620.2 677,622.7 685,627.3 693,633.2 701,641.1 709,648.3 717,656.2 725,664.5 733,672.8 741,681.2 749,689.5 757,696.4 765,702.5 773,706.4 781,709.5 789,712.5 797,714.3 805,715.4 813,715.3 821,715.3 829,716.4 837,718.1 845,719.1 853,720.4 861,722.1 869,722.3 877,723.1 885,723.1 893,721.3 901,720.1 909,718.1 917,715.8 925,712.9 933,710.6 941,706.1 949,702.1 957,698.6 965,696.5 973,694.6 981,691.6 989,688.3 997,686.0 1005,684.2 1013,683.3 1021,683.3 1029,683.3 1037,683.3 1045,684.2 1053,686.0 1061,688.0 1069,692.6 1077,696.6 1085,700.6 1093,704.6 1101,709.1 1109,713.1 1117,718.1 1125,721.0 1133,722.0 1141,722.0 1149,719.7 1157,716.8 1165,713.5 1173,707.5 1181,700.8 1189,692.3 1197,681.1 1205,672.3 1213,663.8 1221,655.7 1229,647.2 1237,639.8 1245,633.6 1253,628.5 1261,625.1 1269,623.3 1277,622.5 1285,622.5 1293,623.3" fill="none" stroke="#ff0000" stroke-width="3" stroke-linejoin="round" stroke-linecap="round" shape-rendering="crispEdges"/>
<rect x="2" y="2" width="2" height="760" fill="#fff"/>
<rect x="4.5" y="4.5" width="1628" height="594" fill="none" stroke="#000"/>
<rect x="4.5" y="600.5" width="1628" height="141" fill="none" stroke="#000"/>
<g><rect x="1633" y="34" width="2" height="1" fill="#000"/><rect x="1633" y="67" width="2" height="1" fill="#000"/><rect x="1633" y="100" width="2" height="1" fill="#000"/><rect x="1633" y="133" width="2" height="1" fill="#000"/><rect x="1633" y="166" width="2" height="1" fill="#000"/><rect x="1633" y="199" width="2" height="1" fill="#000"/><rect x="1633" y="232" width="2" height="1" fill="#000"/><rect x="1633" y="265" width="2" height="1" fill="#000"/><rect x="1633" y="298" width="2" height="1" fill="#000"/><rect x="1633" y="331" width="2" height="1" fill="#000"/><rect x="1633" y="364" width="2" height="1" fill="#000"/><rect x="1633" y="397" width="2" height="1" fill="#000"/><rect x="1633" y="430" width="2" height="1" fill="#000"/><rect x="1633" y="463" width="2" height="1" fill="#000"/><rect x="1633" y="496" width="2" height="1" fill="#000"/><rect x="1633" y="529" width="2" height="1" fill="#000"/><rect x="1633" y="562" width="2" height="1" fill="#000"/><rect x="1633" y="595" width="2" height="1" fill="#000"/><rect x="1633" y="602" width="2" height="1" fill="#000"/><rect x="1633" y="641" width="2" height="1" fill="#000"/><rect x="1633" y="741" width="1" height="1" fill="#000"/></g>
<rect x="1634" y="374" width="36" height="11" fill="#000"/>
<rect x="1634" y="465" width="36" height="11" fill="#000"/>
<rect x="1633" y="469" width="1" height="3" fill="#000"/>
<g><rect x="5" y="742" width="1" height="3" fill="#000"/><rect x="69" y="742" width="1" height="3" fill="#000"/><rect x="133" y="742" width="1" height="3" fill="#000"/><rect x="197" y="742" width="1" height="3" fill="#000"/><rect x="261" y="742" width="1" height="3" fill="#000"/><rect x="325" y="742" width="1" height="3" fill="#000"/><rect x="389" y="742" width="1" height="3" fill="#000"/><rect x="453" y="742" width="1" height="3" fill="#000"/><rect x="517" y="742" width="1" height="3" fill="#000"/><rect x="581" y="742" width="1" height="3" fill="#000"/><rect x="645" y="742" width="1" height="3" fill="#000"/><rect x="709" y="742" width="1" height="3" fill="#000"/><rect x="773" y="742" width="1" height="3" fill="#000"/><rect x="837" y="742" width="1" height="3" fill="#000"/><rect x="901" y="742" width="1" height="3" fill="#000"/><rect x="965" y="742" width="1" height="3" fill="#000"/><rect x="1029" y="742" width="1" height="3" fill="#000"/><rect x="1093" y="742" width="1" height="3" fill="#000"/><rect x="1157" y="742" width="1" height="3" fill="#000"/><rect x="1221" y="742" width="1" height="3" fill="#000"/><rect x="1285" y="742" width="1" height="3" fill="#000"/></g>
<path d="M8 11h7v1h-7zM9 12h5v1h-5zM10 13h3v1h-3zM11 14h1v1h-1z" fill="#000"/>
<path d="M1301 5h9v1h-9zM1302 6h7v1h-7zM1303 7h5v1h-5zM1304 8h3v1h-3zM1305 9h1v1h-1z" fill="#778899"/>
<g shape-rendering="geometricPrecision"><text x="1637.5" y="38" textLength="28.5" lengthAdjust="spacingAndGlyphs">4227.0</text><text x="1637.5" y="71" textLength="28.5" lengthAdjust="spacingAndGlyphs">4193.0</text><text x="1637.5" y="104" textLength="28.5" lengthAdjust="spacingAndGlyphs">4158.0</text><text x="1637.5" y="137" textLength="28.5" lengthAdjust="spacingAndGlyphs">4124.0</text><text x="1637.5" y="170" textLength="28.5" lengthAdjust="spacingAndGlyphs">4090.0</text><text x="1637.5" y="203" textLength="28.5" lengthAdjust="spacingAndGlyphs">4055.0</text><text x="1637.5" y="236" textLength="28.5" lengthAdjust="spacingAndGlyphs">4021.0</text><text x="1637.5" y="269" textLength="28.5" lengthAdjust="spacingAndGlyphs">3987.0</text><text x="1637.5" y="302" textLength="28.5" lengthAdjust="spacingAndGlyphs">3952.0</text><text x="1637.5" y="335" textLength="28.5" lengthAdjust="spacingAndGlyphs">3918.0</text><text x="1637.5" y="368" textLength="28.5" lengthAdjust="spacingAndGlyphs">3883.0</text><text x="1637.5" y="401" textLength="28.5" lengthAdjust="spacingAndGlyphs">3849.0</text><text x="1637.5" y="434" textLength="28.5" lengthAdjust="spacingAndGlyphs">3815.0</text><text x="1637.5" y="467" textLength="28.5" lengthAdjust="spacingAndGlyphs">3780.0</text><text x="1637.5" y="500" textLength="28.5" lengthAdjust="spacingAndGlyphs">3746.0</text><text x="1637.5" y="533" textLength="28.5" lengthAdjust="spacingAndGlyphs">3711.0</text><text x="1637.5" y="566" textLength="28.5" lengthAdjust="spacingAndGlyphs">3677.0</text><text x="1637.5" y="599" textLength="28.5" lengthAdjust="spacingAndGlyphs">3643.0</text><text x="1636.5" y="611" textLength="22.5" lengthAdjust="spacingAndGlyphs">19.68</text><text x="1636" y="645" textLength="17.5" lengthAdjust="spacingAndGlyphs">0.00</text><text x="1636" y="739" textLength="26" lengthAdjust="spacingAndGlyphs">-49.56</text><text class="w" x="1637.5" y="383" textLength="28.5" lengthAdjust="spacingAndGlyphs">3866.8</text><text class="w" x="1637.5" y="474" textLength="28.5" lengthAdjust="spacingAndGlyphs">3773.2</text><text x="4.5" y="754" letter-spacing="-0.15">16 Aug 2022</text><text x="68.5" y="754" letter-spacing="-0.15">18 Aug 05:00</text><text x="132.5" y="754" letter-spacing="-0.15">22 Aug 05:00</text><text x="196.5" y="754" letter-spacing="-0.15">24 Aug 05:00</text><text x="260.5" y="754" letter-spacing="-0.15">26 Aug 05:00</text><text x="324.5" y="754" letter-spacing="-0.15">30 Aug 05:00</text><text x="388.5" y="754" letter-spacing="-0.15">1 Sep 05:00</text><text x="452.5" y="754" letter-spacing="-0.15">5 Sep 05:00</text><text x="516.5" y="754" letter-spacing="-0.15">7 Sep 05:00</text><text x="580.5" y="754" letter-spacing="-0.15">9 Sep 05:00</text><text x="644.5" y="754" letter-spacing="-0.15">14 Sep 05:00</text><text x="708.5" y="754" letter-spacing="-0.15">16 Sep 05:00</text><text x="772.5" y="754" letter-spacing="-0.15">20 Sep 05:00</text><text x="836.5" y="754" letter-spacing="-0.15">22 Sep 05:00</text><text x="900.5" y="754" letter-spacing="-0.15">26 Sep 05:00</text><text x="964.5" y="754" letter-spacing="-0.15">28 Sep 05:00</text><text x="1028.5" y="754" letter-spacing="-0.15">30 Sep 05:00</text><text x="1092.5" y="754" letter-spacing="-0.15">11 Oct 05:00</text><text x="1156.5" y="754" letter-spacing="-0.15">13 Oct 05:00</text><text x="1220.5" y="754" letter-spacing="-0.15">17 Oct 05:00</text><text x="1284.5" y="754" letter-spacing="-0.15">19 Oct 05:00</text><text x="20" y="16" textLength="64.6" lengthAdjust="spacingAndGlyphs">CHINA300-,H1</text><text x="91.1" y="16" textLength="28.4" lengthAdjust="spacingAndGlyphs">3781.0</text><text x="121.7" y="16" textLength="28.4" lengthAdjust="spacingAndGlyphs">3788.5</text><text x="152.6" y="16" textLength="28.4" lengthAdjust="spacingAndGlyphs">3770.4</text><text x="183.5" y="16" textLength="28.4" lengthAdjust="spacingAndGlyphs">3773.2</text><text x="9" y="613" textLength="108" lengthAdjust="spacingAndGlyphs">MACD(12,26,9) 1.16 8.96</text></g>
</svg></body></html>
